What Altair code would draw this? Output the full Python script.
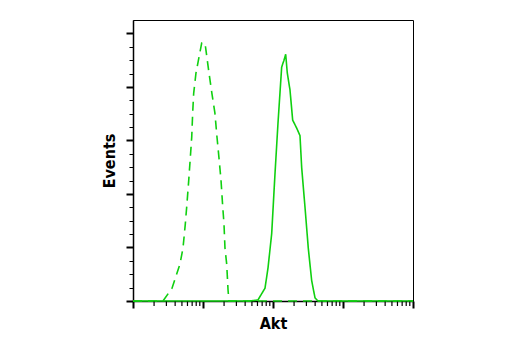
import altair as alt
import pandas as pd

# Dashed (control) histogram
dashed_x = [1, 2.68, 3.61, 4.69, 5.18, 5.59, 5.90, 6.25, 6.59, 6.90, 7.12, 7.36, 7.94, 9.58,
            10.68, 12.18, 13.4, 14.8, 15.85, 16.9, 18.1, 19.0, 19.95, 20.6, 21.8, 22.8, 23.5, 10000]
dashed_y = [0, 0, 0.24, 0.69, 0.99, 1.44, 1.82, 2.25, 2.68, 3.06, 3.51, 3.88, 4.26, 4.82,
            4.82, 4.26, 3.88, 3.51, 3.06, 2.68, 2.25, 1.82, 1.44, 0.99, 0.69, 0.2, 0, 0]

# Solid (Akt) histogram
solid_x = [1, 46.9, 61, 76.9, 84.9, 95.8, 106.8, 117.8, 133, 143.6, 151.8, 160, 175, 191, 218,
           243, 257, 287, 319, 357, 398, 439, 10000]
solid_y = [0, 0, 0.02, 0.24, 0.62, 1.26, 2.38, 3.32, 4.37, 4.5, 4.61, 4.26, 3.94, 3.38, 3.23,
           3.09, 2.49, 1.74, 0.99, 0.38, 0.06, 0, 0]

x_major_ticks = [1, 10, 100, 1000, 10000]
x_minor_ticks = [m * 10 ** d for d in range(4) for m in range(2, 10)]
y_ticks = [i * 0.25 for i in range(21)]

df = pd.concat([
    pd.DataFrame({"x": dashed_x, "y": dashed_y, "s": "control", "o": range(len(dashed_x))}),
    pd.DataFrame({"x": solid_x, "y": solid_y, "s": "akt", "o": range(len(solid_x))}),
])
minor_df = pd.DataFrame({"x": x_minor_ticks})

green = "#10d010"
font = "Liberation Sans Narrow, DejaVu Sans Condensed, Roboto Condensed, Liberation Sans"

y_major = "abs(datum.value - round(datum.value)) < 0.001"
xscale = alt.Scale(type="log", domain=[1, 10000], nice=False)

lines = alt.Chart(df).mark_line(strokeWidth=1.6, color=green).encode(
    x=alt.X("x:Q", scale=xscale,
            axis=alt.Axis(values=x_major_ticks, labels=False, grid=False, title="Akt",
                          titleFont=font, titleFontSize=16, titleFontWeight="bold",
                          titlePadding=6, domainColor="black", domainWidth=1.5,
                          tickColor="black", tickSize=7, tickWidth=2)),
    y=alt.Y("y:Q",
            scale=alt.Scale(domain=[0, 5.25], nice=False),
            axis=alt.Axis(values=y_ticks, labels=False, grid=False, title="Events",
                          titleFont=font, titleFontSize=16, titleFontWeight="bold",
                          titlePadding=8, domainColor="black", domainWidth=1.5,
                          tickColor="black",
                          tickSize={"condition": {"test": y_major, "value": 7}, "value": 4},
                          tickWidth={"condition": {"test": y_major, "value": 2}, "value": 1})),
    strokeDash=alt.StrokeDash("s:N",
                              scale=alt.Scale(domain=["control", "akt"], range=[[9, 6], [1, 0]]),
                              legend=None),
    detail="s:N",
    order="o:Q",
)

minor = alt.Chart(minor_df).mark_rule(color="black", strokeWidth=1.2).encode(
    x=alt.X("x:Q", scale=xscale),
    y=alt.value(281.5),
    y2=alt.value(286),
)

chart = alt.layer(lines, minor).properties(
    width=280, height=281,
    autosize="none",
    padding={"left": 125, "top": 12, "right": 20, "bottom": 40},
).configure_view(stroke="black", strokeWidth=1)

chart.save("out.html", embed_options={"renderer": "svg", "actions": False})
